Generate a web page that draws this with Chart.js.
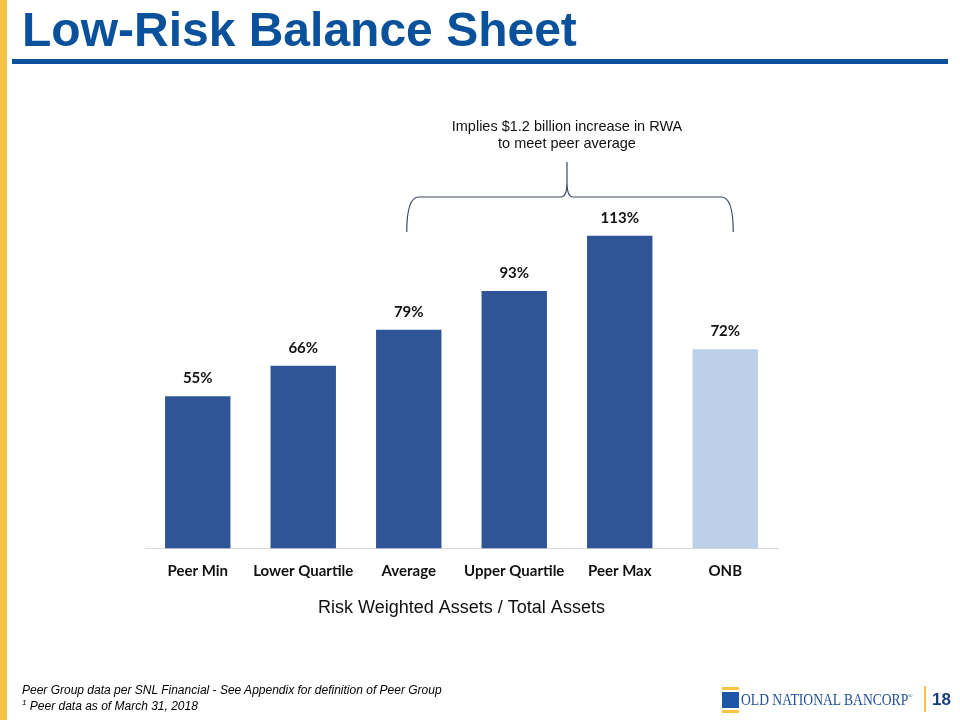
<!DOCTYPE html>
<html>
<head>
<meta charset="utf-8">
<script src="https://cdn.jsdelivr.net/npm/chart.js@4.4.1/dist/chart.umd.min.js"></script>
<style>
  html, body { margin: 0; padding: 0; background: #fff; }
  #page { position: relative; width: 960px; height: 720px; overflow: hidden; font-family: "Liberation Sans", Arial, sans-serif; }
  #stripe { position: absolute; left: 0; top: 0; width: 7px; height: 720px; background: #F6C342; }
  #title { position: absolute; left: 22px; top: 2px; font-size: 48px; font-weight: bold; color: #0A519C; letter-spacing: 0px; }
  #rule { position: absolute; left: 12px; top: 59px; width: 936px; height: 5px; background: #0A519C; }
  #wrap { position: absolute; left: 0; top: 0; width: 960px; height: 720px; }
  .note { position: absolute; left: 22px; font-size: 12px; font-style: italic; color: #000; }
  #logo { position: absolute; left: 722px; top: 687px; width: 17px; height: 26px; }
  #logo .y { position: absolute; left: 0; width: 17px; height: 3px; background: #F6C342; }
  #logo .b { position: absolute; left: 0; top: 5px; width: 17px; height: 16px; background: #1F56A8; }
  #bank { position: absolute; left: 741px; top: 690px; font-family: "Liberation Serif", serif; font-size: 17px; color: #1F4E9A; transform: scaleX(0.8); transform-origin: left top; white-space: nowrap; }
  #sep { position: absolute; left: 924px; top: 686px; width: 2px; height: 26px; background: #F6C342; }
  #num { position: absolute; left: 932px; top: 690px; font-size: 17px; font-weight: bold; color: #1A3E78; }
</style>
</head>
<body>
<div id="page">
  <div id="wrap"><canvas id="chart" width="960" height="720"></canvas></div>
  <div id="stripe"></div>
  <div id="title">Low-Risk Balance Sheet</div>
  <div id="rule"></div>
  <div class="note" style="top:683px">Peer Group data per SNL Financial - See Appendix for definition of Peer Group</div>
  <div class="note" style="top:698px"><sup style="font-size:8px">1</sup> Peer data as of March 31, 2018</div>
  <div id="logo"><div class="y" style="top:0"></div><div class="b"></div><div class="y" style="top:23px"></div></div>
  <div id="bank">OLD NATIONAL BANCORP<sup style="font-size:7px">®</sup></div>
  <div id="sep"></div>
  <div id="num">18</div>
</div>
<script>
const categories = ['Peer Min', 'Lower Quartile', 'Average', 'Upper Quartile', 'Peer Max', 'ONB'];
const ratios = [55, 66, 79, 93, 113, 72];
const barColors = ['#2F5597', '#2F5597', '#2F5597', '#2F5597', '#2F5597', '#BDD0EA'];
const braceNote = ['Implies $1.2 billion increase in RWA', 'to meet peer average'];
const axisTitle = 'Risk Weighted Assets / Total Assets';

// value labels above each bar
const valueLabels = {
  id: 'valueLabels',
  afterDatasetsDraw(chart) {
    const ctx = chart.ctx;
    const meta = chart.getDatasetMeta(0);
    ctx.save();
    ctx.font = 'bold 15px Lato, "Open Sans", sans-serif';
    ctx.fillStyle = '#111';
    ctx.textAlign = 'center';
    ctx.textBaseline = 'middle';
    meta.data.forEach((bar, i) => {
      ctx.fillText(ratios[i] + '%', bar.x, bar.y - 18);
    });
    ctx.restore();
  }
};

// curly brace from Average to ONB with the note above it
const braceNoteDraw = {
  id: 'braceNote',
  afterDraw(chart) {
    const ctx = chart.ctx;
    const x = chart.scales.x;
    const left = x.getPixelForValue(2) - 2;
    const right = x.getPixelForValue(5) + 8;
    const mid = (x.getPixelForValue(3) + x.getPixelForValue(4)) / 2;
    const yLine = 197, yEnd = 232, yTip = 162;
    ctx.save();
    ctx.strokeStyle = '#3A4A63';
    ctx.lineWidth = 1.2;
    ctx.beginPath();
    ctx.moveTo(left, yEnd);
    ctx.quadraticCurveTo(left, yLine, left + 12, yLine);
    ctx.lineTo(mid - 6, yLine);
    ctx.quadraticCurveTo(mid, yLine, mid, yTip + 20);
    ctx.lineTo(mid, yTip);
    ctx.moveTo(mid, yTip + 20);
    ctx.quadraticCurveTo(mid, yLine, mid + 6, yLine);
    ctx.lineTo(right - 12, yLine);
    ctx.quadraticCurveTo(right, yLine, right, yEnd);
    ctx.stroke();
    ctx.font = '14.5px "Liberation Sans", Arial, sans-serif';
    ctx.fillStyle = '#111';
    ctx.textAlign = 'center';
    ctx.textBaseline = 'middle';
    ctx.fillText(braceNote[0], mid, 127);
    ctx.fillText(braceNote[1], mid, 144);
    ctx.restore();
  }
};

new Chart(document.getElementById('chart').getContext('2d'), {
  type: 'bar',
  data: {
    labels: categories,
    datasets: [{
      data: ratios,
      backgroundColor: barColors,
      barPercentage: 0.62,
      categoryPercentage: 1
    }]
  },
  options: {
    responsive: false,
    animation: false,
    layout: { padding: { left: 145, right: 182, top: 161, bottom: 97 } },
    scales: {
      x: {
        grid: { display: false, drawTicks: false },
        border: { display: true, color: '#D9D9D9', width: 1 },
        ticks: {
          padding: 14,
          maxRotation: 0,
          minRotation: 0,
          autoSkip: false,
          color: '#111',
          font: { family: 'Lato, "Open Sans", sans-serif', size: 15, weight: 'bold' }
        },
        title: {
          display: true,
          text: axisTitle,
          color: '#111',
          padding: { top: 3, bottom: 4 },
          font: { family: '"Liberation Sans", Arial, sans-serif', size: 18 }
        }
      },
      y: { display: false, min: 0, max: 140 }
    },
    plugins: {
      legend: { display: false },
      tooltip: { enabled: false }
    }
  },
  plugins: [valueLabels, braceNoteDraw]
});
</script>
</body>
</html>
